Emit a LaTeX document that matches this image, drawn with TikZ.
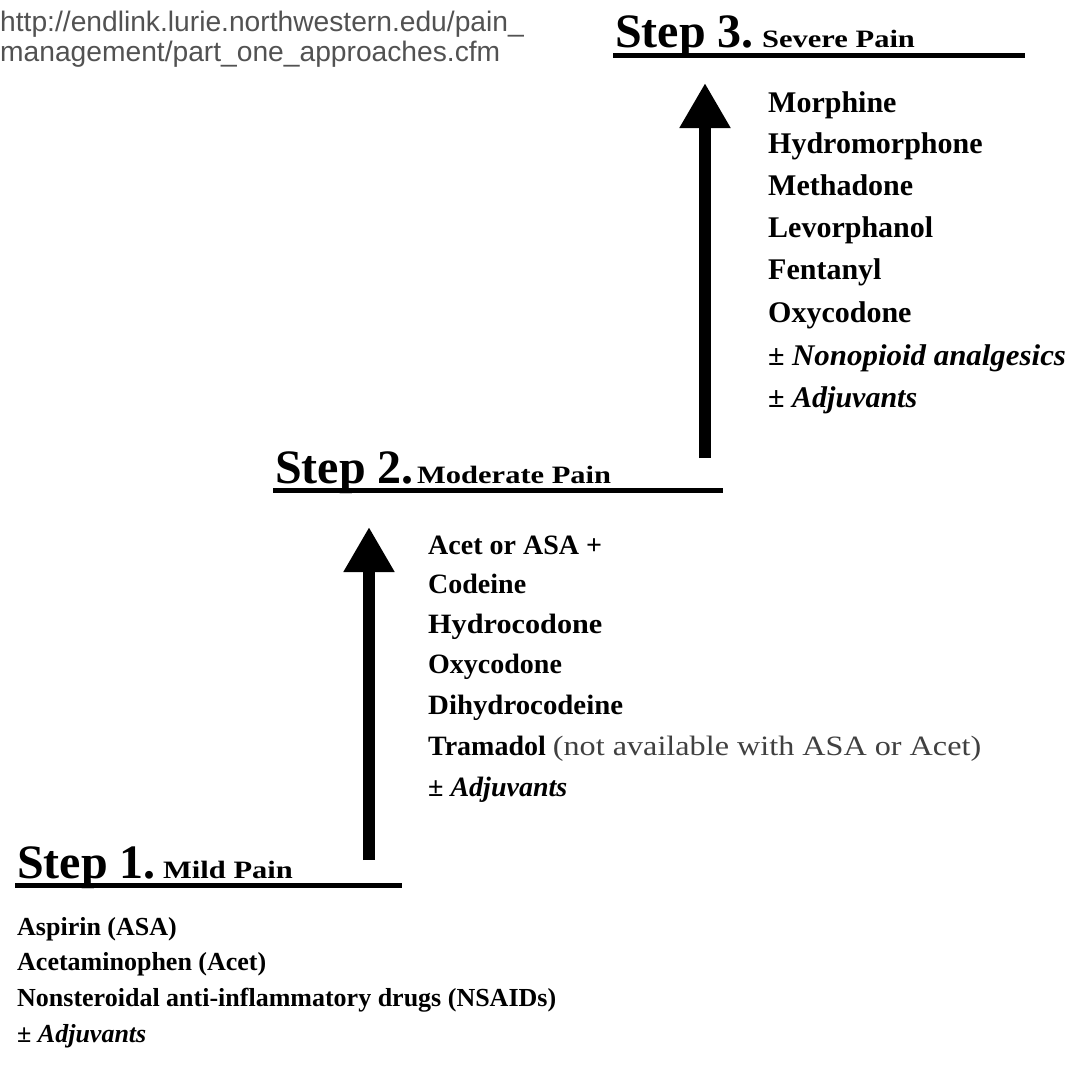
\documentclass[tikz,border=0pt]{standalone}
\usepackage{fontspec}
\setmainfont{Liberation Serif}
\newfontfamily\urlfont{Liberation Sans}
\usetikzlibrary{arrows.meta}
\newcommand\sx[2]{\scalebox{#1}[1]{#2}}
\tikzset{
  steptitle/.style={anchor=base west, inner sep=0pt, font=\fontsize{48}{48}\selectfont\bfseries},
  stepsub/.style={anchor=base west, inner sep=0pt, font=\fontsize{25}{25}\selectfont\bfseries},
  itemthree/.style={anchor=base west, inner sep=0pt, font=\fontsize{30}{30}\selectfont\bfseries},
  itemtwo/.style={anchor=base west, inner sep=0pt, font=\fontsize{28}{28}\selectfont\bfseries},
  itemone/.style={anchor=base west, inner sep=0pt, font=\fontsize{26}{26}\selectfont\bfseries},
  rule/.style={line width=5pt},
  uparrow/.style={line width=12pt, -{Triangle[width=48pt,length=45pt]}},
  urltext/.style={anchor=base west, inner sep=0pt, text=black!68, font=\fontsize{28.2}{28.2}\selectfont\urlfont},
}
\begin{document}
\begin{tikzpicture}[x=1pt,y=-1pt]
\useasboundingbox (0,0) rectangle (1076,1077);
\fill[white] (0,0) rectangle (1076,1077);

% URL
\node[urltext] (url1) at (0,31) {http://endlink.lurie.northwestern.edu/pain\_};
\node[urltext] (url2) at (0,61) {management/part\_one\_approaches.cfm};

% Step 3
\node[steptitle] (s3) at (615,47) {Step 3.};
\node[stepsub] (s3sub) at (762,47) {\sx{1.22}{Severe Pain}};
\draw[rule] (613,55) -- (1025,55);
\node[itemthree] (m1) at (768,112) {Morphine};
\node[itemthree] (m2) at (768,153) {Hydromorphone};
\node[itemthree] (m3) at (768,195) {Methadone};
\node[itemthree] (m4) at (768,237) {Levorphanol};
\node[itemthree] (m5) at (768,279) {Fentanyl};
\node[itemthree] (m6) at (768,322) {Oxycodone};
\node[itemthree] (m7) at (768,365) {± \sx{1.03}{\textit{Nonopioid analgesics}}};
\node[itemthree] (m8) at (768,407) {± \textit{Adjuvants}};

% Step 2
\node[steptitle] (s2) at (275,483) {Step 2.};
\node[stepsub] (s2sub) at (417,483) {\sx{1.22}{Moderate Pain}};
\draw[rule] (273,490) -- (723,490);
\node[itemtwo] (c1) at (428,554) {Acet or ASA +};
\node[itemtwo] (c2) at (428,593) {Codeine};
\node[itemtwo] (c3) at (428,633) {\sx{1.08}{Hydrocodone}};
\node[itemtwo] (c4) at (428,673) {Oxycodone};
\node[itemtwo] (c5) at (428,714) {\sx{1.03}{Dihydrocodeine}};
\node[itemtwo] (c6) at (428,755) {Tramadol \mdseries\color{black!75}\sx{1.15}{(not available with ASA or Acet)}};
\node[itemtwo] (c7) at (428,796) {± \textit{Adjuvants}};

% Step 1
\node[steptitle] (s1) at (17,878) {Step 1.};
\node[stepsub] (s1sub) at (163,878) {\sx{1.22}{Mild Pain}};
\draw[rule] (15,885) -- (402,885);
\node[itemone] (a1) at (17,935) {Aspirin (ASA)};
\node[itemone] (a2) at (17,970) {Acetaminophen (Acet)};
\node[itemone] (a3) at (17,1006) {Nonsteroidal anti-inflammatory drugs (NSAIDs)};
\node[itemone] (a4) at (17,1042) {± \textit{Adjuvants}};

% Arrows
\coordinate (b2) at (369,860);
\coordinate (t2) at (369,527);
\coordinate (b3) at (705,458);
\coordinate (t3) at (705,83);
\draw[uparrow] (b2) -- (t2);
\draw[uparrow] (b3) -- (t3);
\end{tikzpicture}
\end{document}
